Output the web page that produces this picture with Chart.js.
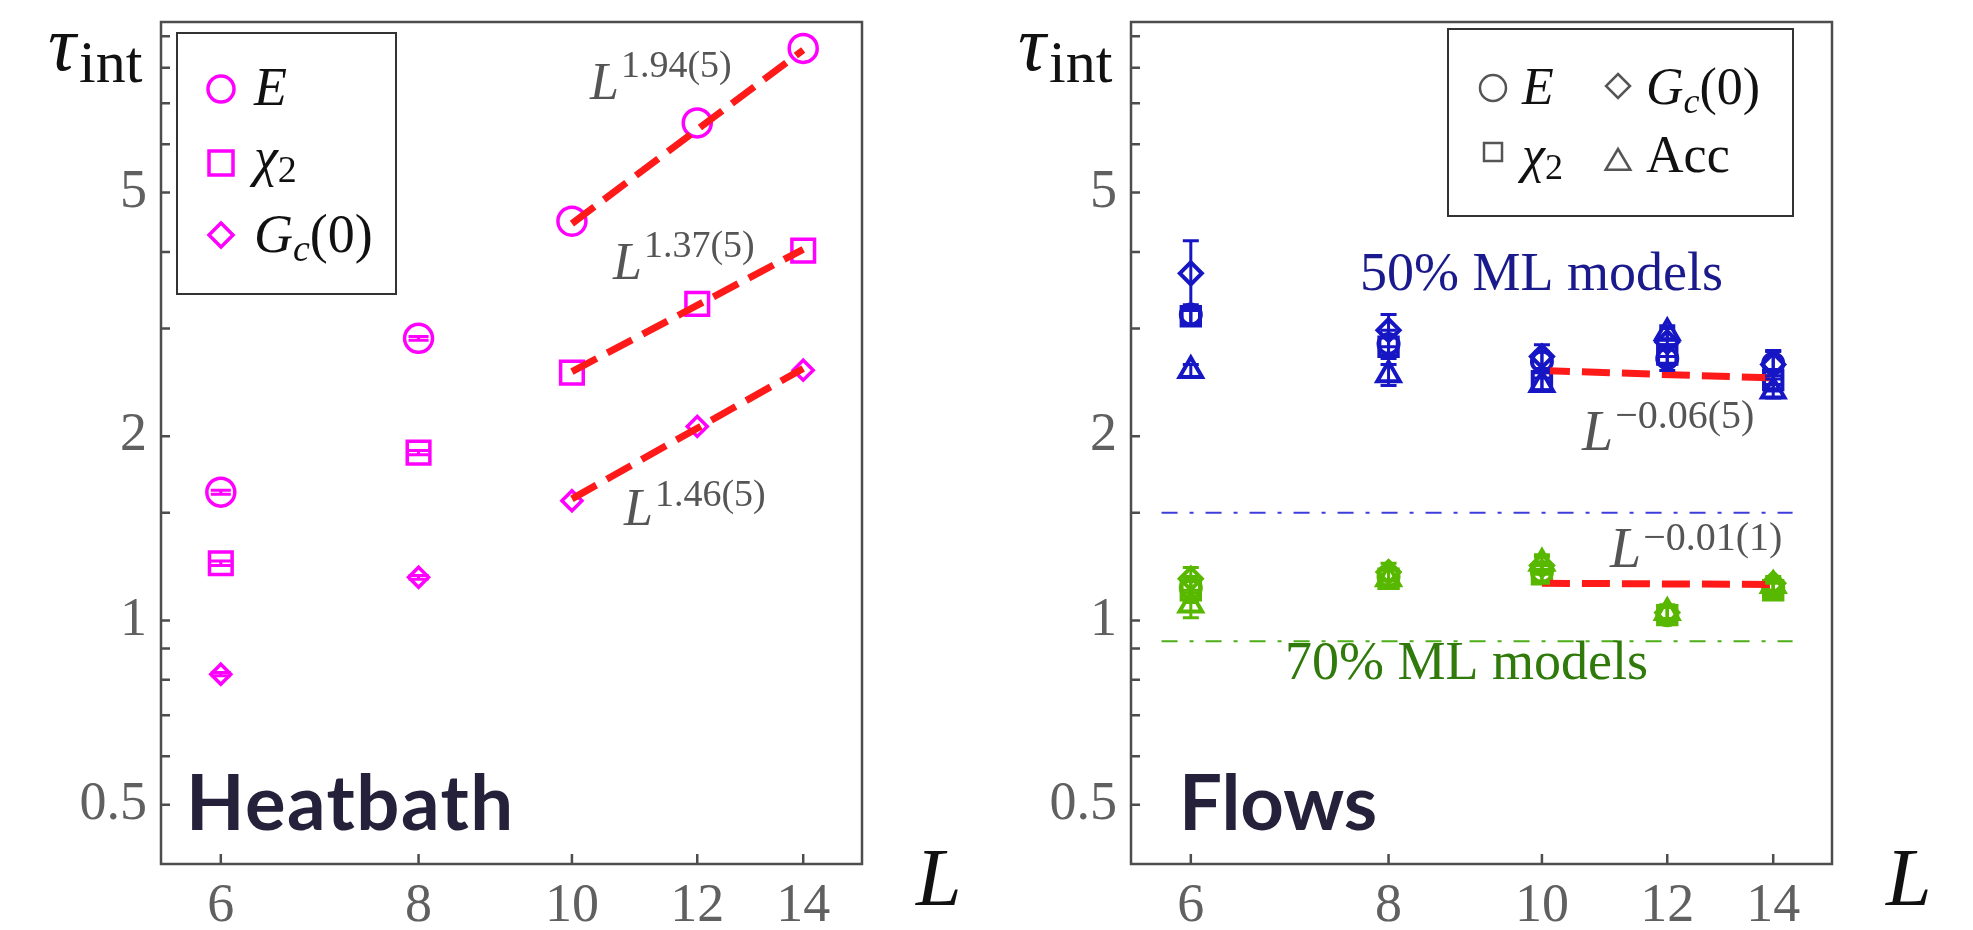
<!DOCTYPE html>
<html>
<head>
<meta charset="utf-8">
<script src="https://cdn.jsdelivr.net/npm/chart.js@4.4.0/dist/chart.umd.min.js"></script>
<style>
  body { margin: 0; background: #fff; }
  #wrap { position: relative; width: 1973px; height: 930px; overflow: hidden; }
  canvas { position: absolute; top: 0; }
</style>
</head>
<body>
<div id="wrap">
  <canvas id="heat" width="970" height="930" style="left:0"></canvas>
  <canvas id="flow" width="1003" height="930" style="left:970px"></canvas>
</div>
<script>
// lattice sizes and ticks
const sizes = [6, 8, 10, 12, 14];
const xTicks = [6, 8, 10, 12, 14];
const yTicks = [0.5, 0.6, 0.7, 0.8, 0.9, 1, 1.5, 2, 3, 4, 5, 6, 7, 8, 9];
const yLabels = [0.5, 1, 2, 5];

// Heatbath tau_int
const hbE   = [1.62, 2.89, 4.49, 6.50, 8.60];
const hbChi = [1.24, 1.88, 2.54, 3.29, 4.02];
const hbG   = [0.817, 1.176, 1.569, 2.075, 2.564];
const hbErrE   = [0.012, 0.02, 0, 0, 0];
const hbErrChi = [0.01, 0.015, 0, 0, 0];
const hbErrG   = [0.005, 0.008, 0, 0, 0];

// fits (L = 10 .. 14)
const fitL = [10, 14];
const hbFitE   = [4.45, 8.55];
const hbFitChi = [2.55, 4.04];
const hbFitG   = [1.58, 2.58];

// Flows, 50% ML models
const f50E   = [3.16, 2.83, 2.65, 2.68, 2.63];
const f50Chi = [3.14, 2.80, 2.46, 2.72, 2.47];
const f50G   = [3.69, 2.98, 2.70, 2.85, 2.62];
const f50Acc = [2.56, 2.52, 2.43, 2.95, 2.37];
const f50ErrE   = [0.12, 0.15, 0.10, 0.12, 0.12];
const f50ErrChi = [0.10, 0.10, 0.08, 0.10, 0.10];
const f50ErrG   = [0.48, 0.18, 0.12, 0.15, 0.14];
const f50ErrAcc = [0.06, 0.10, 0.06, 0.08, 0.06];
const f50Fit = [2.56, 2.49];

// Flows, 70% ML models
const f70E   = [1.13, 1.18, 1.20, 1.02, 1.13];
const f70Chi = [1.12, 1.17, 1.19, 1.02, 1.12];
const f70G   = [1.17, 1.20, 1.23, 1.03, 1.15];
const f70Acc = [1.06, 1.17, 1.24, 1.03, 1.14];
const f70Err = [0.05, 0.04, 0.04, 0.03, 0.03];
const f70Fit = [1.15, 1.145];

// reference levels (dash-dot)
const refL = [5.75, 14.4];
const ref50 = [1.5, 1.5];
const ref70 = [0.925, 0.925];

const serif = '"Liberation Serif", "DejaVu Serif", serif';
const MAGENTA = '#ff00ff', BLUE = '#1616c4', GREEN = '#58b800', RED = '#ff1a1a';

Chart.defaults.font.family = 'Liberation Serif';

const pts = (xs, ys) => xs.map((x, i) => ({ x: x, y: ys[i] }));

function markers(label, ys, errs, style, r, color, bw) {
  return {
    label: label, data: pts(sizes, ys), errs: errs,
    showLine: false, pointStyle: style, pointRadius: r,
    pointBorderWidth: bw, borderColor: color, pointBorderColor: color,
    pointBackgroundColor: 'rgba(0,0,0,0)'
  };
}
function line(ys, xs, color, width, dash) {
  return {
    data: pts(xs, ys), showLine: true, pointRadius: 0,
    borderColor: color, borderWidth: width, borderDash: dash, fill: false
  };
}

const tickFont = { family: 'Liberation Serif', size: 54, style: 'normal', weight: 'normal' };

function axes() {
  return {
    x: {
      type: 'logarithmic', min: 5.5, max: 15.25,
      afterBuildTicks: s => { s.ticks = xTicks.map(v => ({ value: v })); },
      afterFit: s => { s.height = 66; s.paddingLeft = 0; s.paddingRight = 0; },
      grid: { display: false, drawTicks: false },
      border: { display: false },
      ticks: { autoSkip: false, maxRotation: 0, padding: 10, color: '#606060',
               font: tickFont, callback: v => String(v) }
    },
    y: {
      type: 'logarithmic', min: 0.4, max: 9.5,
      afterBuildTicks: s => { s.ticks = yTicks.map(v => ({ value: v })); },
      afterFit: s => { s.width = 161; s.paddingTop = 0; s.paddingBottom = 0; },
      grid: { display: false, drawTicks: false },
      border: { display: false },
      ticks: { autoSkip: false, padding: 14, color: '#606060',
               font: tickFont,
               callback: v => yLabels.includes(v) ? String(v) : '' }
    }
  };
}

function mathText(ctx, x, y, parts, color) {
  ctx.fillStyle = color;
  ctx.textAlign = 'left';
  ctx.textBaseline = 'alphabetic';
  for (const p of parts) {
    ctx.font = p.f;
    ctx.letterSpacing = p.ls || '0px';
    ctx.fillText(p.t, x, y + (p.dy || 0));
    x += ctx.measureText(p.t).width + (p.k || 0);
  }
  ctx.letterSpacing = '0px';
}

function shape(ctx, style, x, y, r, color, lw) {
  ctx.save();
  ctx.strokeStyle = color;
  ctx.lineWidth = lw;
  ctx.beginPath();
  if (style === 'circle') {
    ctx.arc(x, y, r, 0, Math.PI * 2);
  } else if (style === 'rect') {
    ctx.rect(x - r, y - r, 2 * r, 2 * r);
  } else if (style === 'rectRot') {
    ctx.moveTo(x, y - r); ctx.lineTo(x + r, y); ctx.lineTo(x, y + r); ctx.lineTo(x - r, y); ctx.closePath();
  } else if (style === 'triangle') {
    ctx.moveTo(x, y - r); ctx.lineTo(x + r * 0.95, y + r * 0.6); ctx.lineTo(x - r * 0.95, y + r * 0.6); ctx.closePath();
  }
  ctx.stroke();
  ctx.restore();
}

const it = s => 'italic ' + s + 'px ' + serif;
const rm = s => s + 'px ' + serif;

function decoPlugin(cfg) {
  return {
    id: 'deco',
    afterDatasetsDraw(chart) {
      const ctx = chart.ctx, xs = chart.scales.x, ys = chart.scales.y;
      chart.data.datasets.forEach(ds => {
        if (!ds.errs) return;
        ctx.save();
        ctx.strokeStyle = ds.borderColor;
        ctx.lineWidth = 3;
        ds.data.forEach((p, j) => {
          const e = ds.errs[j];
          if (!e) return;
          const px = xs.getPixelForValue(p.x);
          const t = ys.getPixelForValue(p.y + e), b = ys.getPixelForValue(p.y - e);
          ctx.beginPath();
          ctx.moveTo(px, t); ctx.lineTo(px, b);
          ctx.moveTo(px - cfg.cap, t); ctx.lineTo(px + cfg.cap, t);
          ctx.moveTo(px - cfg.cap, b); ctx.lineTo(px + cfg.cap, b);
          ctx.stroke();
        });
        ctx.restore();
      });
    },
    afterDraw(chart) {
      const ctx = chart.ctx, a = chart.chartArea, xs = chart.scales.x, ys = chart.scales.y;
      ctx.save();
      // box and inward ticks
      ctx.strokeStyle = '#4d4d4d';
      ctx.lineWidth = 2.5;
      ctx.strokeRect(a.left, a.top, a.right - a.left, a.bottom - a.top);
      ctx.beginPath();
      yTicks.forEach(v => {
        const py = ys.getPixelForValue(v);
        ctx.moveTo(a.left, py); ctx.lineTo(a.left + 9, py);
      });
      xTicks.forEach(v => {
        const px = xs.getPixelForValue(v);
        ctx.moveTo(px, a.bottom); ctx.lineTo(px, a.bottom - 10);
      });
      ctx.stroke();

      // axis names
      mathText(ctx, a.left - 113, 70, [{ t: 'τ', f: it(78) }], '#111');
      mathText(ctx, a.left - 82, 82, [{ t: 'int', f: rm(60) }], '#111');
      mathText(ctx, 916, 905, [{ t: 'L', f: it(82) }], '#111');

      // legend box
      const lg = cfg.legend;
      ctx.fillStyle = '#fff';
      ctx.fillRect(lg.x, lg.y, lg.w, lg.h);
      ctx.strokeStyle = '#333';
      ctx.lineWidth = 2;
      ctx.strokeRect(lg.x, lg.y, lg.w, lg.h);
      lg.items.forEach(m => {
        shape(ctx, m.s, m.x, m.y, m.r, lg.color, lg.lw);
        mathText(ctx, m.tx, m.ty, m.parts, '#111');
      });

      // annotations
      cfg.texts.forEach(tx => mathText(ctx, tx.x, tx.y, tx.parts, tx.c));
      ctx.restore();
    }
  };
}

function makeChart(id, datasets, rightPad, cfg) {
  return new Chart(document.getElementById(id), {
    type: 'scatter',
    data: { datasets: datasets },
    options: {
      responsive: false, animation: false,
      layout: { autoPadding: false, padding: { left: 0, right: rightPad, top: 22, bottom: 0 } },
      plugins: { legend: { display: false }, tooltip: { enabled: false } },
      scales: axes()
    },
    plugins: [decoPlugin(cfg)]
  });
}

const dash = [28, 12];
const dashDot = [16, 12, 4, 12];
const brand = 'bold 76px Lato, "Open Sans", sans-serif';

// ---- Heatbath ----
makeChart('heat', [
  line(hbFitE, fitL, RED, 7, dash),
  line(hbFitChi, fitL, RED, 7, dash),
  line(hbFitG, fitL, RED, 7, dash),
  markers('E', hbE, hbErrE, 'circle', 14, MAGENTA, 3.5),
  markers('chi2', hbChi, hbErrChi, 'rect', 16, MAGENTA, 3.5),
  markers('Gc(0)', hbG, hbErrG, 'rectRot', 10, MAGENTA, 3.5)
], 970 - 862, {
  cap: 10,
  legend: {
    x: 177, y: 33, w: 219, h: 261, color: MAGENTA, lw: 3.5,
    items: [
      { s: 'circle', x: 221, y: 89, r: 13, tx: 254, ty: 105, parts: [{ t: 'E', f: it(54) }] },
      { s: 'rect', x: 221, y: 163, r: 12, tx: 254, ty: 175,
        parts: [{ t: 'χ', f: it(54) }, { t: '2', f: rm(38), dy: 7 }] },
      { s: 'rectRot', x: 221, y: 235, r: 12, tx: 254, ty: 252,
        parts: [{ t: 'G', f: it(54) }, { t: 'c', f: it(38), dy: 9 }, { t: '(0)', f: rm(54) }] }
    ]
  },
  texts: [
    { x: 590, y: 99, c: '#555', parts: [{ t: 'L', f: it(52), k: 2 }, { t: '1.94(5)', f: rm(38), dy: -22 }] },
    { x: 613, y: 279, c: '#555', parts: [{ t: 'L', f: it(52), k: 2 }, { t: '1.37(5)', f: rm(38), dy: -22 }] },
    { x: 624, y: 525, c: '#555', parts: [{ t: 'L', f: it(52), k: 2 }, { t: '1.46(5)', f: rm(38), dy: -19 }] },
    { x: 186, y: 830, c: '#25213b', parts: [{ t: 'Heatbath', f: brand, ls: '1.5px' }] }
  ]
});

// ---- Flows ----
makeChart('flow', [
  line(f50Fit, fitL, RED, 7, dash),
  line(f70Fit, fitL, RED, 7, dash),
  line(ref50, refL, '#3c3cdc', 2, dashDot),
  line(ref70, refL, '#4caf1a', 2, dashDot),
  markers('E', f50E, f50ErrE, 'circle', 10, BLUE, 4),
  markers('chi2', f50Chi, f50ErrChi, 'rect', 13, BLUE, 4),
  markers('Gc(0)', f50G, f50ErrG, 'rectRot', 11, BLUE, 4),
  markers('Acc', f50Acc, f50ErrAcc, 'triangle', 13, BLUE, 4),
  markers('E', f70E, f70Err, 'circle', 10, GREEN, 4),
  markers('chi2', f70Chi, f70Err, 'rect', 13, GREEN, 4),
  markers('Gc(0)', f70G, f70Err, 'rectRot', 11, GREEN, 4),
  markers('Acc', f70Acc, f70Err, 'triangle', 13, GREEN, 4)
], 1003 - 862, {
  cap: 8,
  legend: {
    x: 478, y: 29, w: 345, h: 187, color: '#555', lw: 2.5,
    items: [
      { s: 'circle', x: 523, y: 88, r: 13, tx: 552, ty: 104, parts: [{ t: 'E', f: it(52) }] },
      { s: 'rectRot', x: 648, y: 86, r: 12, tx: 676, ty: 104,
        parts: [{ t: 'G', f: it(52) }, { t: 'c', f: it(36), dy: 9 }, { t: '(0)', f: rm(52) }] },
      { s: 'rect', x: 523, y: 152, r: 9, tx: 552, ty: 172,
        parts: [{ t: 'χ', f: it(52) }, { t: '2', f: rm(36), dy: 7 }] },
      { s: 'triangle', x: 648, y: 162, r: 13, tx: 676, ty: 172, parts: [{ t: 'Acc', f: rm(52) }] }
    ]
  },
  texts: [
    { x: 390, y: 290, c: '#1a1a8c', parts: [{ t: '50% ML models', f: rm(54) }] },
    { x: 315, y: 679, c: '#2f7a0a', parts: [{ t: '70% ML models', f: rm(54) }] },
    { x: 612, y: 450, c: '#555', parts: [{ t: 'L', f: it(56), k: 2 }, { t: '−0.06(5)', f: rm(40), dy: -22 }] },
    { x: 640, y: 567, c: '#555', parts: [{ t: 'L', f: it(56), k: 2 }, { t: '−0.01(1)', f: rm(40), dy: -17 }] },
    { x: 209, y: 830, c: '#25213b', parts: [{ t: 'Flows', f: brand }] }
  ]
});
</script>
</body>
</html>
